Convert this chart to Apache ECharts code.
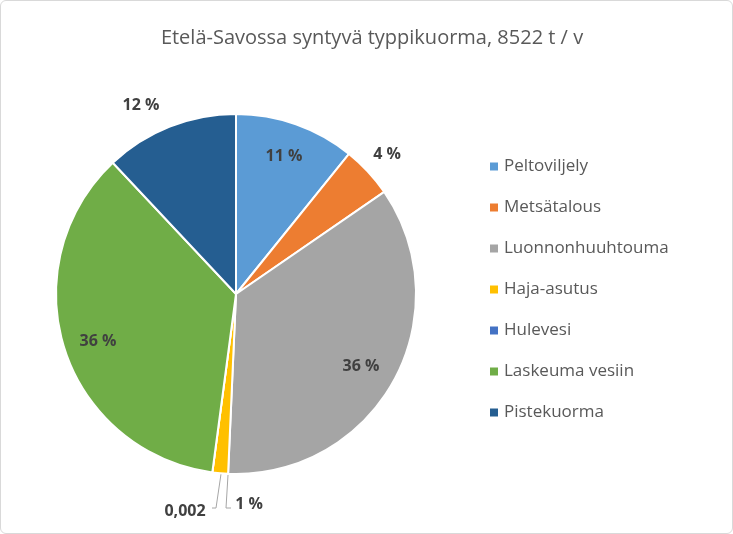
<!DOCTYPE html><html><head><meta charset="utf-8"><script src="https://cdn.jsdelivr.net/npm/echarts@6/dist/echarts.min.js"></script>
<style>html,body{margin:0;padding:0;background:#fff}#c{width:733px;height:534px;box-sizing:border-box;border:1px solid #d9d9d9;border-radius:6px}</style></head><body><div id="c"></div><script>
const categories=["Peltoviljely","Metsätalous","Luonnonhuuhtouma","Haja-asutus","Hulevesi","Laskeuma vesiin","Pistekuorma"];
const values=[10.8,4.6,35.3,1.4,0.002,35.9,12];
const labels=["11 %","4 %","36 %","1 %","0,002","36 %","12 %"];
const colors=["#5b9bd5","#ed7d31","#a5a5a5","#ffc000","#4472c4","#70ad47","#255e91"];
const labelPos={0:[283,155],1:[386,153],2:[360,365],3:[248,503],4:[184,510],5:[97,340],6:[140,104]};
const data=categories.map((n,i)=>({name:n,value:values[i],itemStyle:{color:colors[i]},label:{formatter:labels[i]}}));
const ch=echarts.init(document.getElementById('c'));
ch.setOption({animation:false,
title:{text:'Etelä-Savossa syntyvä typpikuorma, 8522 t / v',left:366,textAlign:'center',top:22,textStyle:{fontFamily:'Open Sans',fontSize:20,fontWeight:'normal',color:'#595959'}},
legend:{orient:'vertical',left:482,top:152,itemGap:24,itemWidth:10,itemHeight:10,icon:'rect',textStyle:{fontFamily:'Open Sans',fontSize:17,color:'#595959'},data:categories},
series:[{type:'pie',center:[235,293],radius:[0,180],startAngle:90,clockwise:true,avoidLabelOverlap:false,
itemStyle:{borderColor:'#fff',borderWidth:2},
label:{position:'inside',fontFamily:'Open Sans',fontSize:16,fontWeight:'bold',color:'#404040'},
labelLine:{show:false},
labelLayout:function(p){const q=labelPos[p.dataIndex];return {x:q[0],y:q[1],align:'center',verticalAlign:'middle',hideOverlap:false};},
data}],
graphic:[{type:'polyline',shape:{points:[[220,473],[215,507],[211,507]]},style:{stroke:'#a6a6a6',lineWidth:1,fill:null}},
{type:'polyline',shape:{points:[[227,474],[225,507],[230,507]]},style:{stroke:'#a6a6a6',lineWidth:1,fill:null}}]});
</script></body></html>
